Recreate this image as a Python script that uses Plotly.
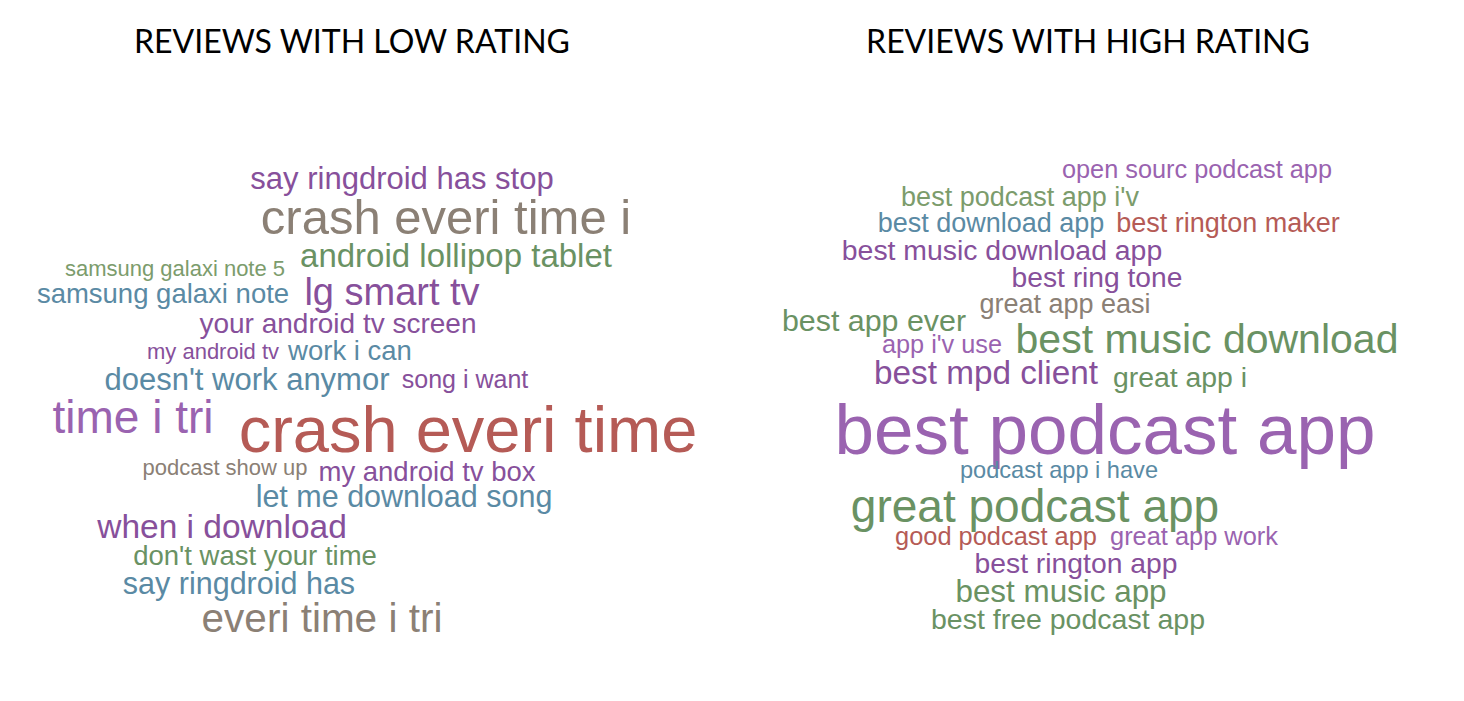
import plotly.graph_objects as go

# ---------------- data ----------------
low_phrases = [
    "say ringdroid has stop", "crash everi time i", "android lollipop tablet",
    "samsung galaxi note 5", "samsung galaxi note", "lg smart tv",
    "your android tv screen", "my android tv", "work i can",
    "doesn't work anymor", "song i want", "time i tri", "crash everi time",
    "podcast show up", "my android tv box", "let me download song",
    "when i download", "don't wast your time", "say ringdroid has",
    "everi time i tri",
]
low_weight = [31, 49, 33, 22, 27.5, 38, 28, 22, 27.5, 31, 25, 46, 65, 22, 27.5, 30.5, 33.5, 27.5, 30.5, 40.5]
low_x = [402, 446, 456, 175, 163, 392, 338, 213, 350, 247, 465, 133, 468, 225, 427, 404, 222, 255, 239, 322]
low_y = [181, 222, 259, 270, 296, 295, 326, 353, 353, 382, 382, 421, 436, 469, 474, 499, 530, 558, 586, 622]
low_color = ["purple", "gray", "green", "green2", "teal", "purple", "purple", "purple", "teal",
             "teal", "purple", "purple2", "red", "gray", "purple", "teal", "purple", "green",
             "teal", "gray"]

high_phrases = [
    "open sourc podcast app", "best podcast app i'v", "best download app",
    "best rington maker", "best music download app", "best ring tone",
    "great app easi", "best app ever", "app i'v use", "best music download",
    "best mpd client", "great app i", "best podcast app", "podcast app i have",
    "great podcast app", "good podcast app", "great app work", "best rington app",
    "best music app", "best free podcast app",
]
high_weight = [25.3, 27, 27, 27, 28.4, 28.2, 27, 30.4, 25.3, 41, 33.3, 28.4, 71, 23.6, 46, 25.4, 25.4, 28.3, 31.4, 28.5]
high_x = [1197, 1020, 991, 1228, 1002, 1097, 1065, 874, 942, 1207, 986, 1180, 1105, 1059, 1035, 996, 1194, 1076, 1061, 1068]
high_y = [172, 199, 225, 225, 253, 280, 306, 323, 347, 343, 376, 380, 436, 472, 510, 539, 539, 566, 594, 622]
high_color = ["purple2", "green2", "teal", "red", "purple", "purple", "gray", "green", "purple2",
              "green", "purple", "green", "purple2", "teal", "green", "red", "purple2", "purple",
              "green", "green"]

titles = ["REVIEWS WITH LOW RATING", "REVIEWS WITH HIGH RATING"]

# ---------------- style ----------------
palette = {
    "purple": "#87509b",
    "purple2": "#9a63b0",
    "gray": "#8b8075",
    "green": "#6a9263",
    "green2": "#7c9c6c",
    "teal": "#5a8aa4",
    "red": "#b55b56",
}

fig = go.Figure()
for phrases, w, xs, ys, cs in [
    (low_phrases, low_weight, low_x, low_y, low_color),
    (high_phrases, high_weight, high_x, high_y, high_color),
]:
    fig.add_trace(go.Scatter(
        x=xs, y=ys, mode="text", text=phrases,
        textposition="middle center",
        textfont=dict(family="Liberation Sans, Arial, sans-serif",
                      size=w, color=[palette[c] for c in cs]),
        hoverinfo="text", showlegend=False,
    ))

fig.add_trace(go.Scatter(
    x=[352, 1088], y=[45, 45], mode="text", text=titles,
    textposition="middle center",
    textfont=dict(family="Lato, Open Sans, sans-serif", size=32, color="#000000"),
    hoverinfo="skip", showlegend=False,
))

fig.update_layout(
    width=1464, height=701,
    margin=dict(l=0, r=0, t=0, b=0),
    paper_bgcolor="white", plot_bgcolor="white",
    xaxis=dict(range=[0, 1464], visible=False, fixedrange=True),
    yaxis=dict(range=[701, 0], visible=False, fixedrange=True),
)

fig.write_html("out.html", config={"displayModeBar": False})
